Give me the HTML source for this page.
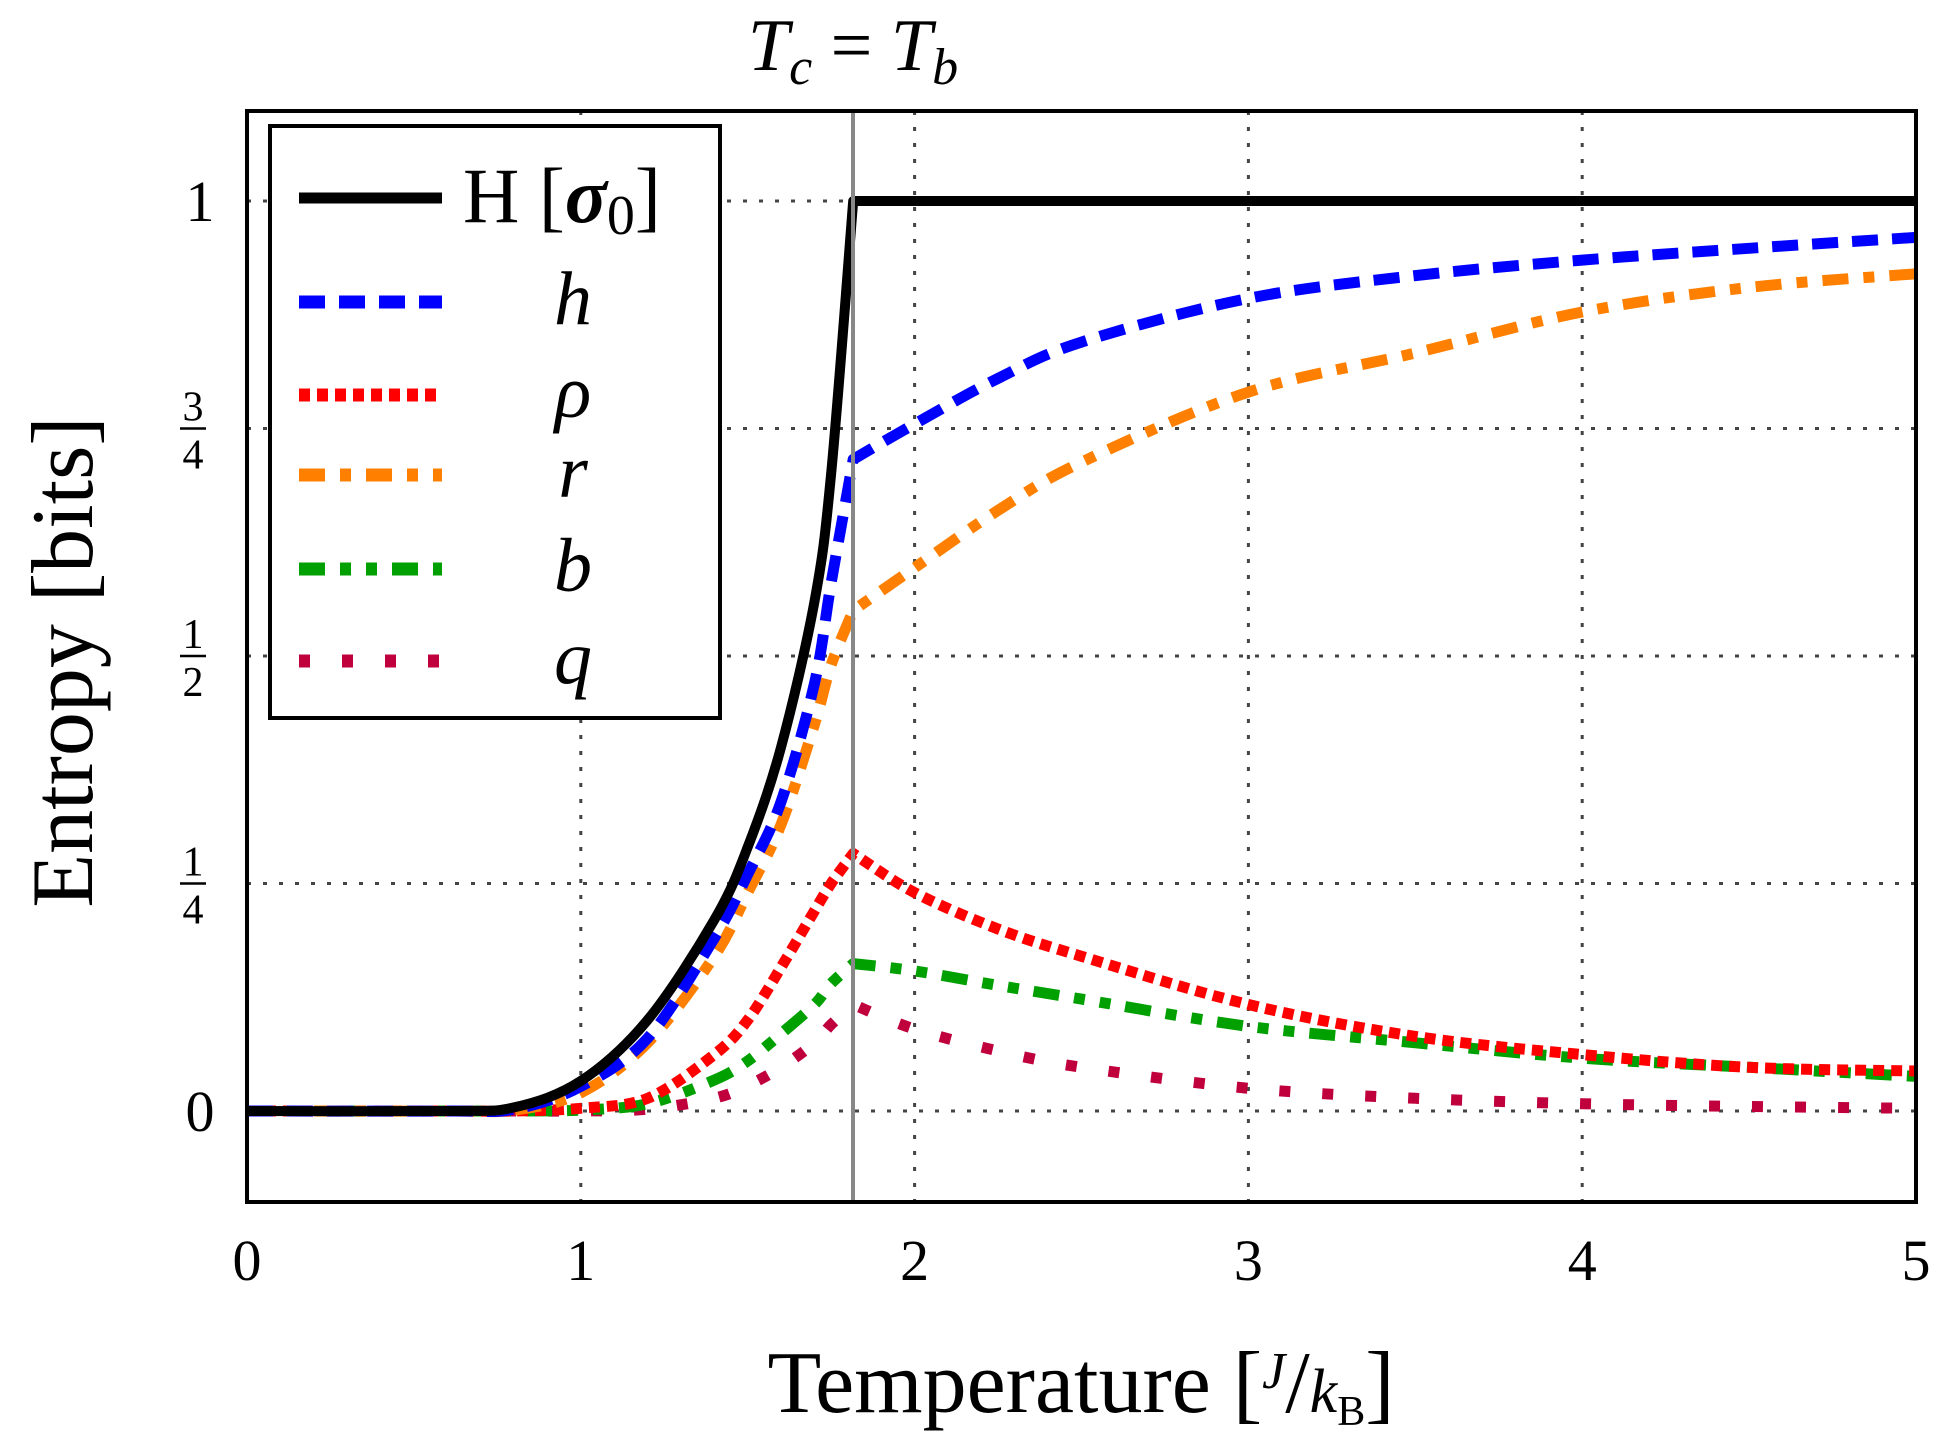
<!DOCTYPE html>
<html><head><meta charset="utf-8"><style>
html,body{margin:0;padding:0;background:#fff;}
svg{display:block;font-family:"Liberation Serif",serif;}
</style></head><body>
<svg id="chart" width="1957" height="1451" viewBox="0 0 1957 1451">
<g id="grid"></g>
<g id="series"></g>
<line x1="853" y1="110" x2="853" y2="1202" stroke="#888" stroke-width="4"/>
<rect x="247" y="111" width="1669" height="1091" fill="none" stroke="#000" stroke-width="4"/>
<g id="ticks"></g>
<text x="853" y="70" font-size="74" font-style="italic" text-anchor="middle">T<tspan font-size="52" dy="14">c</tspan><tspan font-style="normal" dy="-14"> = </tspan>T<tspan font-size="52" dy="14">b</tspan></text>
<text x="1081" y="1412" font-size="88" text-anchor="middle">Temperature [<tspan font-style="italic" font-size="52" dy="-24">J</tspan><tspan dy="24">/</tspan><tspan font-style="italic" font-size="62">k</tspan><tspan font-size="42" dy="13">B</tspan><tspan dy="-13">]</tspan></text>
<text transform="translate(92,662) rotate(-90)" font-size="88" text-anchor="middle">Entropy [bits]</text>
<g>
<rect x="270" y="126" width="450" height="592" fill="#fff" stroke="#000" stroke-width="4"/>
<g id="legend-items"></g>
</g>
</svg>
<script>
const xs = [0,0.6,0.8,1.0,1.2,1.4,1.5,1.6,1.7,1.75,1.816,2,2.25,2.5,3,3.5,4,4.5,5];
const H   = [0,0,0.004,0.033,0.10,0.21,0.29,0.40,0.56,0.70,1,1,1,1,1,1,1,1,1];
const hV  = [0,0,0.002,0.027,0.08,0.19,0.26,0.34,0.47,0.58,0.716,0.755,0.805,0.845,0.893,0.918,0.935,0.948,0.96];
const rhoV= [0,0,0,0.003,0.014,0.062,0.10,0.158,0.22,0.25,0.283,0.24,0.20,0.17,0.117,0.082,0.062,0.048,0.044];
const rV  = [0,0,0.001,0.02,0.075,0.17,0.24,0.315,0.425,0.49,0.55,0.597,0.66,0.713,0.79,0.833,0.878,0.905,0.92];
const bV  = [0,0,0,0.001,0.008,0.034,0.055,0.085,0.117,0.14,0.162,0.154,0.138,0.123,0.093,0.075,0.058,0.048,0.038];
const qV  = [0,0,0,0,0.002,0.014,0.028,0.048,0.075,0.095,0.117,0.09,0.066,0.048,0.025,0.014,0.008,0.005,0.003];
const xTicks = [0,1,2,3,4,5];
const yTicks = [0,0.25,0.5,0.75,1];
const yLabels = ["0","1/4","1/2","3/4","1"];
const TC = 1.816;
const NS="http://www.w3.org/2000/svg";
const X = v => 247 + v*(1916-247)/5;
const Y = v => 1111 - v*910;
function mk(tag, attrs, parent){const e=document.createElementNS(NS,tag);for(const k in attrs)e.setAttribute(k,attrs[k]);parent.appendChild(e);return e;}
function smooth(pts){
  let d='M'+pts[0][0].toFixed(1)+','+pts[0][1].toFixed(1);
  for(let i=0;i<pts.length-1;i++){
    const p0=pts[Math.max(0,i-1)],p1=pts[i],p2=pts[i+1],p3=pts[Math.min(pts.length-1,i+2)];
    const c1=[p1[0]+(p2[0]-p0[0])/6,p1[1]+(p2[1]-p0[1])/6];
    const c2=[p2[0]-(p3[0]-p1[0])/6,p2[1]-(p3[1]-p1[1])/6];
    d+=' C'+c1[0].toFixed(1)+','+c1[1].toFixed(1)+' '+c2[0].toFixed(1)+','+c2[1].toFixed(1)+' '+p2[0].toFixed(1)+','+p2[1].toFixed(1);
  }
  return d;
}
const grid=document.getElementById('grid'), ticks=document.getElementById('ticks'), ser=document.getElementById('series');
xTicks.forEach(t=>{
  if(t>0&&t<5){const l=mk('line',{x1:X(t),x2:X(t),y1:111,y2:1202,stroke:'#444','stroke-width':3,'stroke-dasharray':'4 12'},grid);
  
  }
  const tx=mk('text',{x:X(t),y:1280,'font-size':58,'text-anchor':'middle'},ticks);tx.textContent=t;
  
  
});
yTicks.forEach((t,i)=>{
  const l=mk('line',{x1:247,x2:1916,y1:Y(t),y2:Y(t),stroke:'#444','stroke-width':3,'stroke-dasharray':'4 12'},grid);
  
  
  const lab=yLabels[i];
  if(lab.includes('/')){
    const [n,d]=lab.split('/');
    const g=mk('g',{},ticks);
    
    
    mk('text',{x:193,y:Y(t)-8,'font-size':42,'text-anchor':'middle'},g).textContent=n;
    mk('line',{x1:180,x2:206,y1:Y(t),y2:Y(t),stroke:'#000','stroke-width':2.5},g);
    mk('text',{x:193,y:Y(t)+40,'font-size':42,'text-anchor':'middle'},g).textContent=d;
  } else {
    const tx=mk('text',{x:200,y:Y(t)+20,'font-size':58,'text-anchor':'middle'},ticks);tx.textContent=lab;
    
    
  }
});
const styles=[
 {v:qV,c:'#c0003c',d:'11 32',n:'q'},
 {v:bV,c:'#00a000',d:'26 15 11 15 11 15',n:'b'},
 {v:rhoV,c:'#ff0000',d:'11 7',n:'rho'},
 {v:rV,c:'#ff8000',d:'26 15 11 15',n:'r'},
 {v:hV,c:'#0000ff',d:'26 14',n:'h'},
 {v:H,c:'#000',d:'none',n:'H-sigma0'}
];
styles.forEach(s=>{
  const a=[],b=[];
  xs.forEach((x,i)=>{const p=[X(x),Y(s.v[i])]; if(x<=TC)a.push(p); if(x>=TC)b.push(p);});
  const d=smooth(a)+' '+smooth(b).replace(/^M[^ ]+/,'L'+b[0][0].toFixed(1)+','+b[0][1].toFixed(1));
  const p=mk('path',{d:d,fill:'none',stroke:s.c,'stroke-width':s.n==='H-sigma0'?10:11,'stroke-dasharray':s.d,'stroke-linejoin':'round'},ser);
  
  
});
const leg=document.getElementById('legend-items');
const legItems=[{c:'#000',d:'none',y:198,t:'H'},{c:'#0000ff',d:'26 14',y:302,t:'h'},{c:'#ff0000',d:'11 7',y:395,t:'ρ'},{c:'#ff8000',d:'26 15 11 15',y:475,t:'r'},{c:'#00a000',d:'26 15 11 15 11 15',y:569,t:'b'},{c:'#c0003c',d:'11 32',y:661,t:'q'}];
legItems.forEach(it=>{
  const g=mk('g',{},leg);
  
  
  mk('line',{x1:299,x2:442,y1:it.y,y2:it.y,stroke:it.c,'stroke-width':it.t==='H'?11:13,'stroke-dasharray':it.d},g);
  if(it.t==='H'){
    const t=mk('text',{x:463,y:it.y+24,'font-size':78},g);
    t.innerHTML='H [<tspan font-weight="bold" font-style="italic">σ</tspan><tspan font-size="56" dy="12">0</tspan><tspan dy="-12">]</tspan>';
  } else {
    mk('text',{x:573,y:it.y+22,'font-size':76,'font-style':'italic','text-anchor':'middle'},g).textContent=it.t;
  }
});
</script>
</body></html>
